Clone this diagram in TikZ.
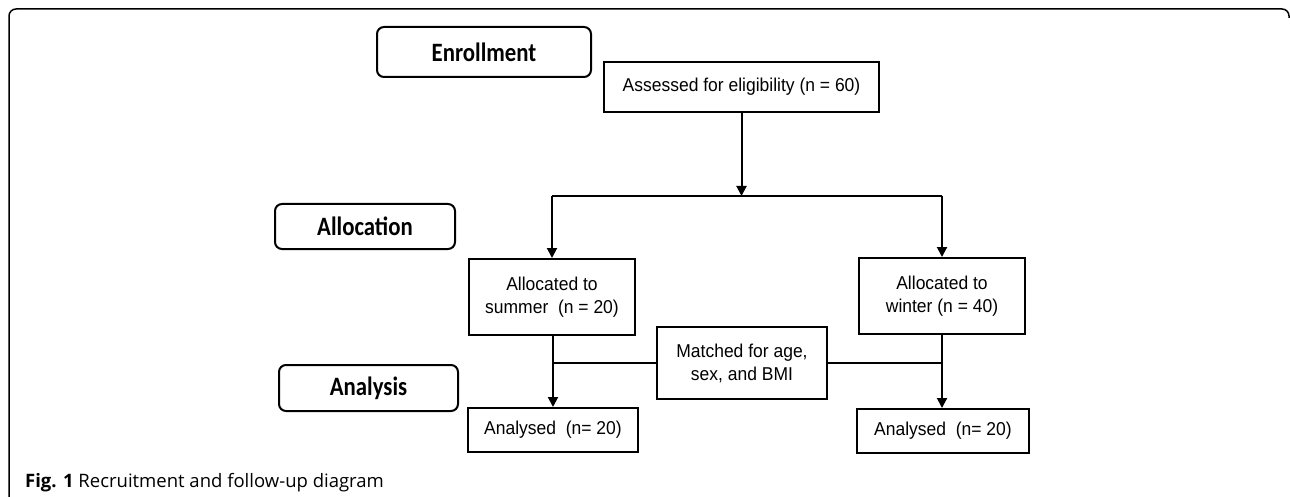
\documentclass[tikz,border=0pt]{standalone}
\usepackage{fontspec}
\setmainfont[FakeStretch=0.94]{Liberation Sans}
\newfontfamily\stagefont[FakeStretch=0.86]{Carlito}
\newfontfamily\capfont{Open Sans}
\usepackage{tikz}
\usetikzlibrary{arrows.meta}
\usetikzlibrary{positioning}

\tikzset{
    stage/.style={draw, line width=2pt, rounded corners=7pt, inner sep=0pt,
        font=\stagefont\bfseries\fontsize{26.5}{30}\selectfont},
    flowbox/.style={draw, line width=2pt, inner sep=0pt, align=center,
        font=\fontsize{18.6}{23}\selectfont},
    link/.style={line width=2pt},
    arr/.style={line width=2pt, -{Triangle[length=10pt,width=10pt]}}
}

\begin{document}
\begin{tikzpicture}[x=1pt,y=-1pt]
        \useasboundingbox (0,0) rectangle (1290,497);

        % Outer frame of the figure
        \draw[line width=1.5pt, rounded corners=7pt] (9,497) -- (9,9) -- (1289,9) -- (1289,18);

        % Stage labels on the left
        \node[stage, minimum width=214pt, minimum height=50pt] (enroll) at (484,52) {Enrollment};
        \node[stage, minimum width=180pt, minimum height=45pt] (alloc) at (365,226.5) {Allocation};
        \node[stage, minimum width=179pt, minimum height=46pt] (analysis) at (368.5,388) {Analysis};

        % Boxes of the flow
        \node[flowbox, minimum width=275pt, minimum height=50pt] (assess) at (741.5,87) {Assessed for eligibility (n = 60)};
        \node[flowbox, minimum width=166pt, minimum height=76pt] (summer) at (552,297) {Allocated to\\summer\ \ (n = 20)};
        \node[flowbox, minimum width=166pt, minimum height=76pt] (winter) at (942,296) {Allocated to\\winter (n = 40)};
        \node[flowbox, minimum width=170pt, minimum height=72pt] (matched) at (742,363) {Matched for age,\\sex, and BMI};
        \node[flowbox, minimum width=170pt, minimum height=44pt] (anaL) at (553,430) {Analysed\ \ (n= 20)};
        \node[flowbox, minimum width=172pt, minimum height=44pt] (anaR) at (943,431) {Analysed\ \ (n= 20)};

        % Split into the two groups
        \coordinate (split) at (741.5,196);
        \draw[arr] (assess) -- (split);
        \draw[link] (split -| summer) -- (split -| winter);
        \draw[arr] (split -| summer) -- (summer);
        \draw[arr] (split -| winter) -- (winter);

        % Groups to analysis, joined by the matching box
        \draw[arr] (summer.south -| anaL) -- (anaL);
        \draw[arr] (winter) -- (winter |- anaR.north);
        \draw[link] (matched.west) -- (matched.west -| summer);
        \draw[link] (matched.east) -- (matched.east -| winter);

        % Caption
        \node[anchor=base west, inner sep=0pt, font=\capfont\fontsize{18.5}{22}\selectfont] (caption) at (25,487)
            {\textbf{Fig. 1} Recruitment and follow-up diagram};
    \end{tikzpicture}
\end{document}
